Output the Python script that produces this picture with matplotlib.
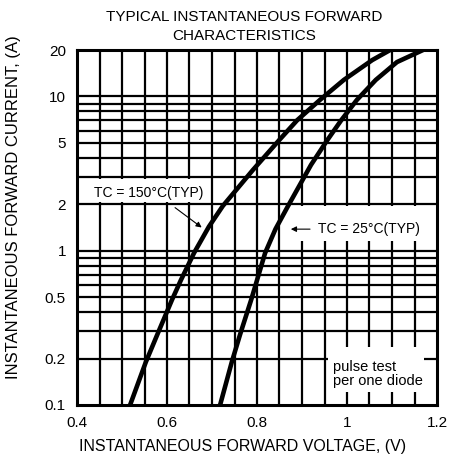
import numpy as np
import matplotlib
matplotlib.use('Agg')
import matplotlib.pyplot as plt
from matplotlib.patches import Rectangle

# curve readings (forward voltage V, forward current A)
v_150 = [0.518, 0.553, 0.578, 0.611, 0.631, 0.660, 0.693, 0.724, 0.791, 0.849, 0.889, 0.940, 0.993, 1.056, 1.096]
i_150 = [0.1, 0.19, 0.284, 0.48, 0.646, 0.966, 1.43, 1.95, 3.34, 5.2, 7.0, 9.5, 12.8, 17.2, 20]

v_25 = [0.718, 0.744, 0.762, 0.787, 0.818, 0.841, 0.869, 0.920, 0.956, 0.987, 1.022, 1.064, 1.111, 1.169]
i_25 = [0.1, 0.19, 0.284, 0.48, 0.966, 1.38, 1.95, 3.6, 5.2, 7.0, 9.5, 12.8, 16.7, 20]

x_ticks = [0.4, 0.6, 0.8, 1.0, 1.2]
x_tick_labels = ['0.4', '0.6', '0.8', '1', '1.2']
y_ticks = [0.1, 0.2, 0.5, 1, 2, 5, 10, 20]
y_tick_labels = ['0.1', '0.2', '0.5', '1', '2', '5', '10', '20']

h_grid = [0.2, 0.3, 0.4, 0.5, 0.6, 0.7, 0.8, 0.9, 1, 2, 3, 4, 5, 6, 7, 8, 9, 10]
v_grid = np.arange(0.45, 1.2, 0.05)

plt.rcParams['font.family'] = ['Liberation Sans', 'DejaVu Sans']

fig = plt.figure(figsize=(4.5, 4.67), dpi=100)
ax = fig.add_axes([77 / 450, 1 - 405 / 467, 360 / 450, 355 / 467])
ax.set_yscale('log')
ax.set_xlim(0.4, 1.2)
ax.set_ylim(0.1, 20)

for h in h_grid:
    ax.axhline(h, color='black', lw=1.6, zorder=1)
for v in v_grid:
    ax.axvline(v, color='black', lw=1.6, zorder=1)

# white patches behind labels
ax.add_patch(Rectangle((0.401, 2.08), 0.28, 0.83, facecolor='white', edgecolor='none', zorder=2))
ax.add_patch(Rectangle((0.885, 1.15), 0.314, 0.79, facecolor='white', edgecolor='none', zorder=2))
ax.add_patch(Rectangle((0.957, 0.122), 0.215, 0.115, facecolor='white', edgecolor='none', zorder=2))

ax.plot(v_150, i_150, color='black', lw=3.3, zorder=4, solid_capstyle='butt')
ax.plot(v_25, i_25, color='black', lw=3.3, zorder=4, solid_capstyle='butt')

ax.text(0.559, 2.37, 'TC = 150°C(TYP)', fontsize=10, ha='center', va='center', zorder=3)
ax.annotate('', xy=(0.682, 1.38), xytext=(0.613, 1.95),
            arrowprops=dict(arrowstyle='-|>', color='black', lw=0.8, mutation_scale=8), zorder=3)
ax.text(0.936, 1.38, 'TC = 25°C(TYP)', fontsize=10, ha='left', va='center', zorder=3)
ax.annotate('', xy=(0.869, 1.38), xytext=(0.924, 1.38),
            arrowprops=dict(arrowstyle='-|>', color='black', lw=0.8, mutation_scale=8), zorder=3)
ax.text(0.969, 0.158, 'pulse test\nper one diode', fontsize=10.5, ha='left', va='center',
        linespacing=1.0, zorder=3)

ax.set_xticks(x_ticks)
ax.set_xticklabels(x_tick_labels, fontsize=11)
ax.set_yticks(y_ticks)
ax.set_yticklabels(y_tick_labels, fontsize=11)
ax.yaxis.set_minor_locator(matplotlib.ticker.NullLocator())
ax.tick_params(axis='x', length=0, pad=8)
ax.tick_params(axis='y', length=0, pad=8)

for s in ax.spines.values():
    s.set_linewidth(2.2)
    s.set_zorder(5)

fig.text(244 / 450, 1 - 26.5 / 467, 'TYPICAL INSTANTANEOUS FORWARD\nCHARACTERISTICS',
         ha='center', va='center', fontsize=11, linespacing=1.45)
fig.text(243 / 450, 1 - 446 / 467, 'INSTANTANEOUS FORWARD VOLTAGE, (V)',
         ha='center', va='center', fontsize=11.5)
fig.text(14 / 450, 1 - 207 / 467, 'INSTANTANEOUS FORWARD CURRENT, (A)',
         ha='center', va='center', fontsize=12, rotation=90)

fig.savefig('out.png', dpi=100)
